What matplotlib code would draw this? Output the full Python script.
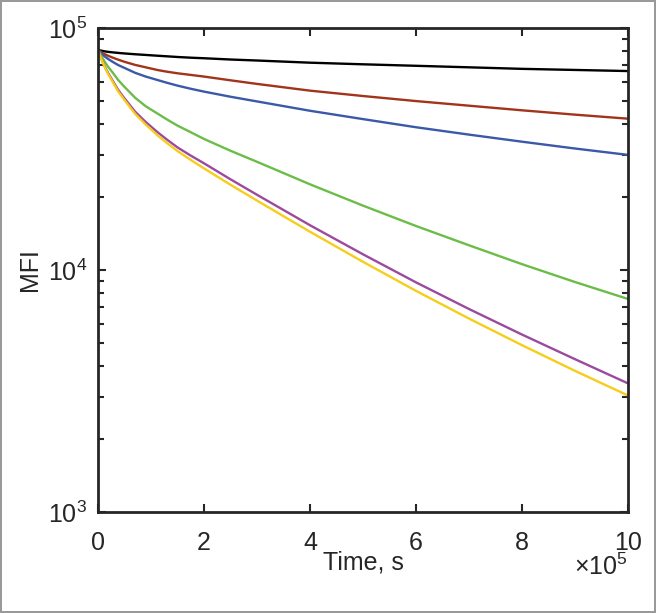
import matplotlib
matplotlib.use('Agg')
import matplotlib.pyplot as plt
from matplotlib.ticker import FuncFormatter, LogLocator, NullFormatter

plt.rcParams['font.family'] = ['Liberation Sans', 'DejaVu Sans']
plt.rcParams['mathtext.fontset'] = 'custom'
plt.rcParams['mathtext.rm'] = 'Liberation Sans'

# time in units of 1e5 s, MFI
time_e5 = [0, 0.05, 0.094, 0.14, 0.19, 0.28, 0.38, 0.5, 0.7, 0.9, 1.13, 1.3,
           1.5, 1.75, 2, 2.5, 3, 4, 5, 6, 7, 8, 9, 10]
mfi_black = [81100, 80700, 80300, 80000, 79700, 79300, 78900, 78500, 77900,
             77400, 76800, 76400, 75900, 75400, 75000, 74100, 73400, 71900,
             70800, 69800, 68800, 67800, 67100, 66400]
mfi_brown = [81100, 79800, 78600, 77700, 76800, 75400, 74000, 72500, 70400,
             68800, 67000, 66000, 65000, 64000, 63000, 60800, 58750, 55100,
             52360, 49900, 47750, 45700, 43850, 42200]
mfi_blue = [81100, 79100, 77300, 75900, 74500, 72400, 70300, 68400, 65300,
            63000, 60900, 59400, 57800, 56100, 54600, 52000, 49730, 45500,
            42030, 38900, 36260, 33900, 31770, 29900]
mfi_green = [81100, 77400, 74500, 71800, 69200, 65300, 61000, 57100, 51500,
             47500, 44200, 41900, 39500, 37100, 34800, 31100, 28000, 22600,
             18450, 15200, 12650, 10570, 8920, 7590]
mfi_purple = [81100, 75900, 71900, 68400, 65200, 60400, 55500, 51200, 45100,
              40900, 37000, 34600, 32100, 29700, 27600, 23700, 20460, 15310,
              11610, 8890, 6900, 5410, 4280, 3400]
mfi_yellow = [81100, 75700, 71600, 67900, 64600, 59700, 54700, 50400, 44200,
              39900, 35900, 33500, 31000, 28500, 26300, 22500, 19360, 14390,
              10810, 8200, 6300, 4890, 3830, 3030]

series = [
    (mfi_black, '#000000'),
    (mfi_brown, '#a2341c'),
    (mfi_blue, '#3a59a8'),
    (mfi_green, '#6bbd48'),
    (mfi_purple, '#9b4a9f'),
    (mfi_yellow, '#f7cd1b'),
]
time_s = [t * 1e5 for t in time_e5]

fig = plt.figure(figsize=(6.56, 6.13), dpi=100)
fig.patch.set_edgecolor('#999999')
fig.patch.set_linewidth(1.5)
ax = fig.add_axes([0.1494, 0.1648, 0.8079, 0.7895])

for vals, col in series:
    ax.plot(time_s, vals, color=col, lw=1.7)

ax.set_yscale('log')
ax.set_ylim(1e3, 1e5)
ax.set_xlim(0, 10e5)
ax.set_xticks([0, 2e5, 4e5, 6e5, 8e5, 10e5])
ax.xaxis.set_major_formatter(FuncFormatter(lambda v, p: '%d' % round(v / 1e5)))
ax.yaxis.set_minor_locator(LogLocator(base=10, subs=range(2, 10)))
ax.yaxis.set_minor_formatter(NullFormatter())

for sp in ax.spines.values():
    sp.set_color('#262626')
    sp.set_linewidth(2)
ax.tick_params(which='both', direction='in', top=True, right=True,
               colors='#262626', labelsize=18)
ax.tick_params(which='major', length=6, width=1.5)
ax.tick_params(which='minor', length=4, width=1.5)
ax.tick_params(axis='x', pad=14)
ax.tick_params(axis='y', pad=8)

ax.set_xlabel('Time, s', fontsize=18, color='#262626')
ax.xaxis.set_label_coords(0.5, -0.080)
ax.set_ylabel('MFI', fontsize=18, color='#262626', labelpad=4)
fig.text(0.957, 0.062, r'$\times10^{5}$', fontsize=18, color='#262626',
         ha='right', va='baseline')

fig.savefig('out.png', dpi=100, edgecolor=fig.get_edgecolor())
